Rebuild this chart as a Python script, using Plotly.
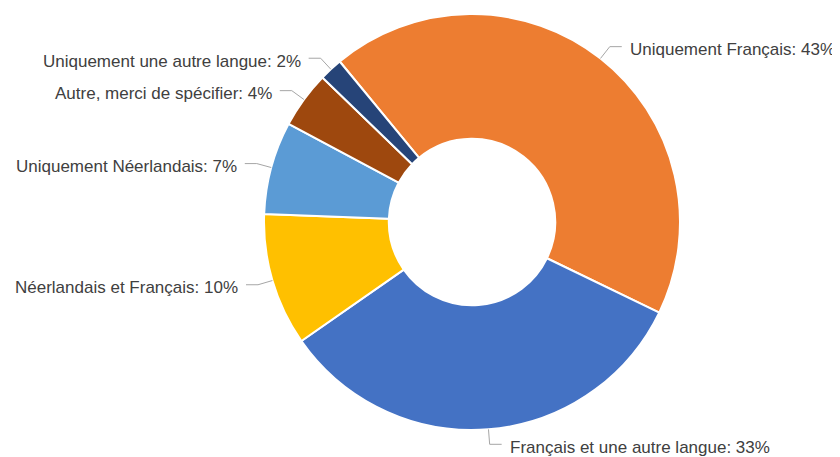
import math
import plotly.graph_objects as go

# ---- data ----
labels = [
    "Uniquement Français",
    "Français et une autre langue",
    "Néerlandais et Français",
    "Uniquement Néerlandais",
    "Autre, merci de spécifier",
    "Uniquement une autre langue",
]
values = [43.1, 33.1, 10.3, 7.2, 4.4, 1.8]
colors = ["#ED7D31", "#4472C4", "#FFC000", "#5B9BD5", "#9E480E", "#264478"]

# ---- layout constants (page body has an 8px margin) ----
W, H = 840, 457
OFF = 8
CX, CY, R = 472 - OFF, 222 - OFF, 208
ROTATION = -39.5
HOLE = 0.40
ELBOW = 15      # radial length of leader line
HSEG = 12       # horizontal length of leader line
GAP = 6         # gap between line and text
TEXT_DY = 3     # text centre sits a bit below the line

def px(x):
    return x / W

def py(y):
    return 1 - y / H

fig = go.Figure(go.Pie(
    labels=labels,
    values=values,
    sort=False,
    direction="clockwise",
    rotation=ROTATION,
    hole=HOLE,
    marker=dict(colors=colors, line=dict(color="white", width=2)),
    textinfo="none",
    hoverinfo="label+percent",
    domain=dict(x=[px(CX - R), px(CX + R)], y=[py(CY + R), py(CY - R)]),
))

total = sum(values)
start = ROTATION
shapes = []
annotations = []
for lab, v in zip(labels, values):
    span = v / total * 360
    mid = math.radians(start + span / 2)
    start += span
    sx, sy = math.sin(mid), -math.cos(mid)
    ex, ey = CX + R * sx, CY + R * sy
    bx, by = CX + (R + ELBOW) * sx, CY + (R + ELBOW) * sy
    side = 1 if sx >= 0 else -1
    hx = bx + side * HSEG
    path = f"M {px(ex)},{py(ey)} L {px(bx)},{py(by)} L {px(hx)},{py(by)}"
    shapes.append(dict(type="path", xref="paper", yref="paper", path=path,
                       line=dict(color="#A6A6A6", width=1)))
    pct = round(v / total * 100)
    annotations.append(dict(
        xref="paper", yref="paper",
        x=px(hx + side * GAP), y=py(by + TEXT_DY),
        xanchor="left" if side > 0 else "right", yanchor="middle",
        text=f"{lab}: {pct}%", showarrow=False,
        font=dict(family="Liberation Sans, Arial, sans-serif", size=17, color="#404040"),
    ))

fig.update_layout(
    width=W, height=H,
    margin=dict(l=0, r=0, t=0, b=0),
    showlegend=False,
    paper_bgcolor="white",
    plot_bgcolor="white",
    shapes=shapes,
    annotations=annotations,
)

fig.write_html("out.html")
